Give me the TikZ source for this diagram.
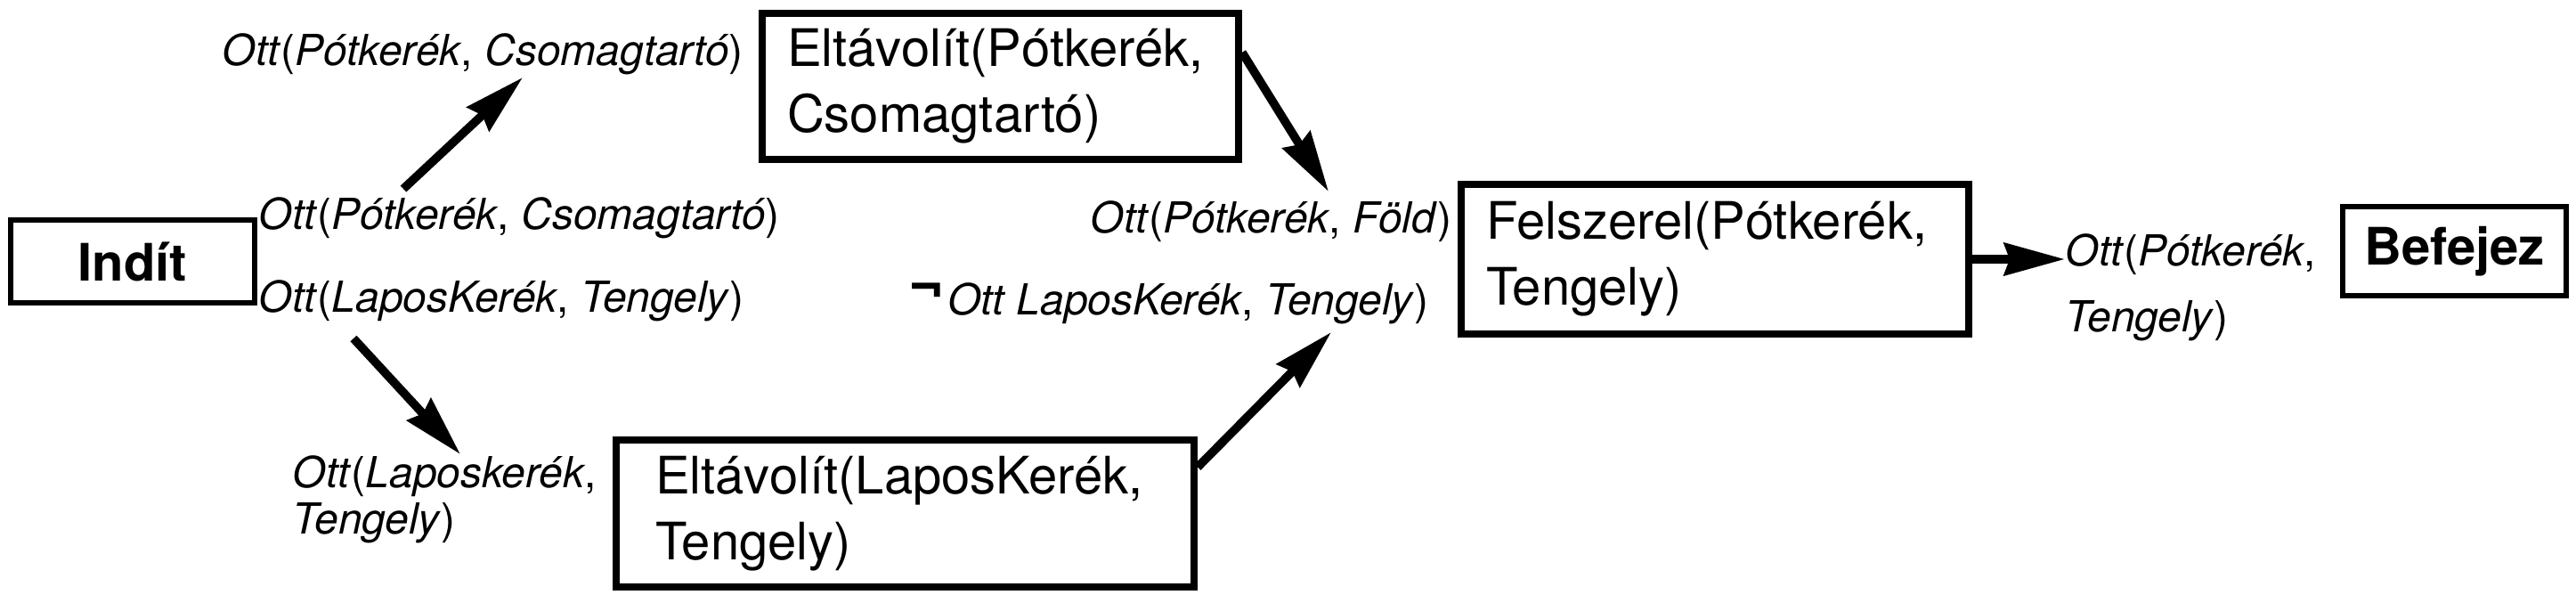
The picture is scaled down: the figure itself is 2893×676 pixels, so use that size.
\documentclass[tikz,border=0pt]{standalone}
\usepackage{fontspec}
\setmainfont{TeX Gyre Heros}
\usetikzlibrary{arrows.meta}

\begin{document}
\begin{tikzpicture}[
  x=0.25pt, y=-0.25pt,
  box/.style={draw, line width=2pt, align=left, inner ysep=0pt, font=\fontsize{14.5}{18.5}\selectfont},
  endbox/.style={draw, line width=1.3pt, inner sep=0pt, font=\fontsize{14.5}{17}\selectfont\bfseries},
  lab/.style={inner sep=0pt, align=left, font=\fontsize{12}{13}\selectfont},
  arrow/.style={-{Stealth[length=17pt, width=9pt, inset=1.5pt]}, line width=2.4pt}
]
\useasboundingbox (0,0) rectangle (2893,676);

\node[endbox, minimum width=68.5pt, minimum height=23.25pt] (indit) at (149,293.5) {Indít};
\node[box, inner xsep=7pt, text width=119.75pt, minimum height=41pt] (elt1) at (1123.5,97)
  {Eltávolít(Pótkerék,\\Csomagtartó)};
\node[box, inner xsep=11pt, text width=140.25pt, minimum height=41.25pt] (elt2) at (1016.5,576.5)
  {Eltávolít(LaposKerék,\\Tengely)};
\node[box, inner xsep=7pt, text width=128.5pt, minimum height=42pt] (felsz) at (1926,291)
  {Felszerel(Pótkerék,\\Tengely)};
\node[endbox, minimum width=62.75pt, minimum height=25pt] (befejez) at (2756.5,282) {Befejez};

\node[lab, anchor=west] (l1) at (249,61) {\textit{Ott}(\textit{Pótkerék}, \textit{Csomagtartó})};
\node[lab, anchor=west] (l2) at (290,245) {\textit{Ott}(\textit{Pótkerék}, \textit{Csomagtartó})};
\node[lab, anchor=west] (l3) at (290,338) {\textit{Ott}(\textit{LaposKerék}, \textit{Tengely})};
\node[lab, anchor=west] (l4) at (328,561) {\textit{Ott}(\textit{Laposkerék},\\\textit{Tengely})};
\node[lab, anchor=east] (l5) at (1631,249) {\textit{Ott}(\textit{Pótkerék}, \textit{Föld})};
\node[lab, anchor=east] (l6) at (1605,341)
  {\raisebox{0.2em}{\fontsize{17}{17}\selectfont\bfseries ¬}\kern1pt\textit{Ott LaposKerék}, \textit{Tengely})};
\node[lab, anchor=west] (l7) at (2319,323) {\textit{Ott}(\textit{Pótkerék},\\[5.5pt]\textit{Tengely})};

\coordinate (s1) at (453,212);
\coordinate (t1) at (587,87);
\coordinate (s2) at (397,380);
\coordinate (t2) at (517,510);
\coordinate (t3) at (1492,215);
\coordinate (t4) at (1495,373);

\draw[arrow] (s1) -- (t1);
\draw[arrow] (s2) -- (t2);
\draw[arrow] (elt1.8) -- (t3);
\draw[arrow] (elt2.9) -- (t4);
\draw[arrow] (felsz.east) -- (felsz.east -| l7.west);

\end{tikzpicture}
\end{document}
